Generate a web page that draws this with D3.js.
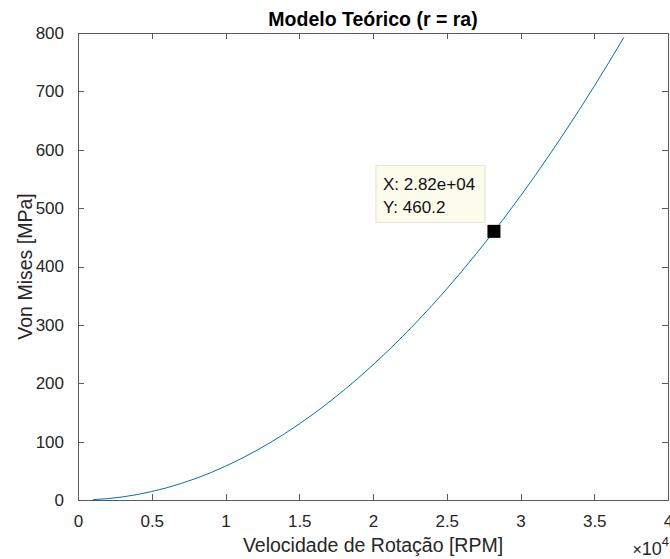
<!DOCTYPE html>
<html>
<head>
<meta charset="utf-8">
<script src="https://cdn.jsdelivr.net/npm/d3@7"></script>
<style>
  html, body { margin: 0; padding: 0; background: #fff; }
  svg { display: block; font-family: "Liberation Sans", Arial, Helvetica, sans-serif; }
</style>
</head>
<body>
<svg id="chart" width="670" height="559"></svg>
<script>
// Rotation speed [RPM] and the resulting von Mises stress [MPa]
const rpm = [1000, 2000, 3000, 4000, 5000, 6000, 7000, 8000, 9000, 10000,
  11000, 12000, 13000, 14000, 15000, 16000, 17000, 18000, 19000, 20000,
  21000, 22000, 23000, 24000, 25000, 26000, 27000, 28000, 29000, 30000,
  31000, 32000, 33000, 34000, 35000, 36000, 37000];
const vonMises = [0.58, 2.31, 5.21, 9.26, 14.47, 20.83, 28.36, 37.04, 46.87, 57.87,
  70.02, 83.33, 97.80, 113.42, 130.21, 148.15, 167.24, 187.50, 208.91, 231.48,
  255.20, 280.09, 306.13, 333.33, 361.68, 391.20, 421.87, 453.69, 486.68, 520.82,
  556.12, 592.58, 630.20, 668.97, 708.90, 749.99, 792.23];

// Highlighted data tip
const tipX = 28200;
const tipY = 460.2;
const tipLines = ["X: 2.82e+04", "Y: 460.2"];

// Axis ticks
const xTicks = [0, 0.5, 1, 1.5, 2, 2.5, 3, 3.5, 4];   // ×10^4
const yTicks = [0, 100, 200, 300, 400, 500, 600, 700, 800];

const titleText = "Modelo Teórico (r = ra)";
const xLabel = "Velocidade de Rotação [RPM]";
const yLabel = "Von Mises [MPa]";

const svg = d3.select("#chart");
const L = 78, R = 668, T = 33, B = 500;
const axisColor = "#5a5a5a";
const textColor = "#262626";

const x = d3.scaleLinear().domain([0, 40000]).range([L, R]);
const y = d3.scaleLinear().domain([0, 800]).range([B, T]);

// Box around the plot area
svg.append("rect")
  .attr("x", L).attr("y", T)
  .attr("width", R - L).attr("height", B - T)
  .attr("fill", "none").attr("stroke", axisColor).attr("stroke-width", 1)
  .attr("shape-rendering", "crispEdges");

const tickLen = 6;
const xt = xTicks.map(v => v * 10000);

// Inward ticks on all four sides
const axBottom = d3.axisBottom(x).tickValues(xt).tickSize(-tickLen).tickPadding(tickLen + 9)
  .tickFormat((d, i) => d3.format("")(xTicks[i]));
const axTop = d3.axisTop(x).tickValues(xt).tickSize(-tickLen).tickFormat("");
const axLeft = d3.axisLeft(y).tickValues(yTicks).tickSize(-tickLen).tickPadding(tickLen + 8);
const axRight = d3.axisRight(y).tickValues(yTicks).tickSize(-tickLen).tickFormat("");

function styleAxis(g) {
  g.select(".domain").remove();
  g.selectAll(".tick line").attr("stroke", axisColor).attr("shape-rendering", "crispEdges");
  g.selectAll(".tick text").attr("fill", textColor)
    .style("font-size", "17px").style("font-family", "'Liberation Sans', Arial, sans-serif");
}

svg.append("g").attr("transform", `translate(0,${B})`).call(axBottom).call(styleAxis);
svg.append("g").attr("transform", `translate(0,${T})`).call(axTop).call(styleAxis);
svg.append("g").attr("transform", `translate(${L},0)`).call(axLeft).call(styleAxis);
svg.append("g").attr("transform", `translate(${R},0)`).call(axRight).call(styleAxis);

// Curve
const pts = rpm.map((r, i) => [r, vonMises[i]]);
svg.append("path")
  .datum(pts)
  .attr("fill", "none")
  .attr("stroke", "#0072BD")
  .attr("stroke-width", 1)
  .attr("d", d3.line().x(d => x(d[0])).y(d => y(d[1])).curve(d3.curveMonotoneX));

// Data tip marker
const sq = 13;
svg.append("rect")
  .attr("x", x(tipX) - sq / 2).attr("y", y(tipY) - sq / 2)
  .attr("width", sq).attr("height", sq)
  .attr("fill", "#000");

// Data tip box
const tip = svg.append("g").attr("transform", `translate(${x(tipX) - 118},${y(tipY) - 66})`);
tip.append("rect")
  .attr("x", 0).attr("y", 0).attr("width", 109).attr("height", 57)
  .attr("fill", "#fcfcec").attr("stroke", "#e2e2d6").attr("stroke-width", 1);
tip.selectAll("text").data(tipLines).enter().append("text")
  .attr("x", 7).attr("y", (d, i) => 25 + i * 23)
  .attr("fill", "#111")
  .style("font-size", "17px")
  .text(d => d);

// Title and axis labels
svg.append("text")
  .attr("x", (L + R) / 2).attr("y", 26)
  .attr("text-anchor", "middle")
  .attr("fill", "#000")
  .style("font-size", "19.5px").style("font-weight", "bold")
  .text(titleText);

svg.append("text")
  .attr("x", (L + R) / 2).attr("y", 552)
  .attr("text-anchor", "middle")
  .attr("fill", textColor)
  .style("font-size", "19.5px")
  .text(xLabel);

svg.append("text")
  .attr("transform", `translate(32,${(T + B) / 2}) rotate(-90)`)
  .attr("text-anchor", "middle")
  .attr("fill", textColor)
  .style("font-size", "19.5px")
  .text(yLabel);

// Exponent marker for the x axis
const ex = svg.append("text")
  .attr("x", 669).attr("y", 555)
  .attr("text-anchor", "end")
  .attr("fill", textColor)
  .style("font-size", "18px");
ex.append("tspan").text("\u00d7").style("font-size", "16px");
ex.append("tspan").text("10");
ex.append("tspan").attr("dy", -9).style("font-size", "13px").text("4");
</script>
</body>
</html>
